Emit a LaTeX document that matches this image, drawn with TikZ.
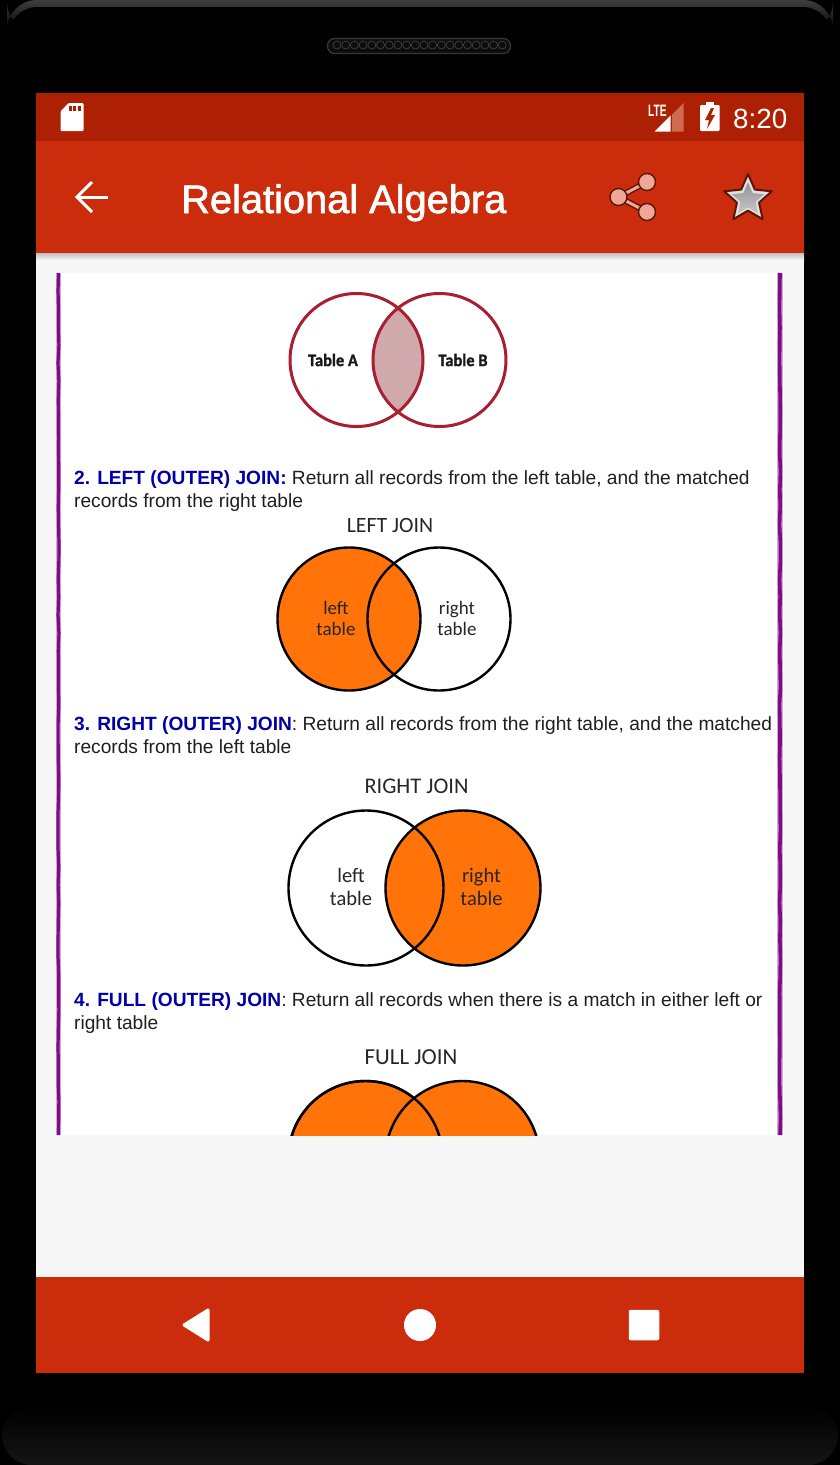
\documentclass[tikz,border=0pt]{standalone}
\usepackage{fontspec}
\usetikzlibrary{calc,positioning,shapes.geometric,decorations.pathmorphing}
\setmainfont{Liberation Sans}
\newfontfamily\uifont{Liberation Sans}
\newfontfamily\titlefont{Liberation Sans}[FakeBold=1.6]
\newfontfamily\vennfont{Carlito}
\newfontfamily\tblfont{Carlito}[BoldFeatures={FakeStretch=.94,FakeBold=1.2}]
\definecolor{barred}{HTML}{CB2C0B}
\definecolor{statusred}{HTML}{AE2003}
\definecolor{bodygray}{HTML}{F6F6F6}
\definecolor{joinorange}{HTML}{FF7308}
\definecolor{ringred}{HTML}{A81F2F}
\definecolor{lensfill}{HTML}{D0A9AD}
\definecolor{edgepurple}{HTML}{800A88}
\definecolor{headblue}{HTML}{0000A8}
\definecolor{sharefill}{HTML}{EFA896}
\definecolor{iconedge}{HTML}{5A1608}
\definecolor{ltedim}{HTML}{CF6A4E}
\newcommand{\fs}[1]{\fontsize{#1}{#1}\selectfont}
\begin{document}
\begin{tikzpicture}[x=1pt, y=-1pt,
  txt/.style={anchor=base west, inner sep=0pt, text=black!88, font=\fs{19.15}},
  vlbl/.style={inner sep=0pt, align=center, font=\vennfont\fs{19}, text=black!85},
  ttl/.style={inner sep=0pt, font=\vennfont\fs{22.4}, text=black!85},
  ring/.style={draw, circle, inner sep=0pt, outer sep=0pt, line width=2.4pt, minimum size=#1},
  tring/.style={draw=ringred, circle, inner sep=0pt, outer sep=0pt, line width=3pt, minimum size=133pt},
  tlbl/.style={inner sep=0pt, font=\tblfont\bfseries\fs{17.5}, text=black!90},
  navbtn/.style={fill=white, draw=white, line join=round},
  shr/.style={circle, fill=sharefill, draw=iconedge, line width=1.4pt, inner sep=0pt, minimum size=17pt}]
\useasboundingbox (0,0) rectangle (840,1465);
\fill[black] (0,0) rectangle (840,1465);
% phone body
\shade[top color=black!76, bottom color=black, rounded corners=30pt] (7,0) rectangle (833,32);
\fill[black, rounded corners=28pt] (9,7) rectangle (831,90);
\shade[top color=black, bottom color=black!92, rounded corners=30pt] (2,1405) rectangle (838,1465);
% speaker
\node[draw=black!78, fill=black!95, rounded corners=7pt, minimum width=183pt, minimum height=15pt, inner sep=0pt, line width=1.2pt] (speaker) at (419,46) {};
\foreach \i in {0,...,19}{
  \draw[black!72, line width=.6pt] (337+8.7*\i,45) circle (4pt);
}
% screen
\fill[statusred] (36,93) rectangle (804,141);
\fill[barred] (36,141) rectangle (804,253);
\fill[bodygray] (36,253) rectangle (804,1277);
\shade[top color=black!25, bottom color=bodygray] (36,253) rectangle (804,260);
\fill[barred] (36,1277) rectangle (804,1373);
\fill[white] (56,273) rectangle (784,1135);
% status bar
\fill[white, rounded corners=1pt] (68.5,103) -- (83.5,103) -- (83.5,131) -- (60.5,131) -- (60.5,111.5) -- cycle;
\foreach \i in {0,1,2}{
  \fill[statusred] (69+4.3*\i,106) rectangle ++(3,5);
}
\fill[ltedim] (683.5,103) -- (683.5,131.5) -- (672,131.5) -- (672,114.5) -- cycle;
\fill[white] (654.5,131.5) -- (670.5,115.5) -- (670.5,131.5) -- cycle;
\node[inner sep=0pt, text=white] (lte) at (657.5,111) {\scalebox{.62}[1]{\uifont\bfseries\fs{16.5}LTE}};
\fill[white] (706,102) rectangle (714,106);
\fill[white, rounded corners=1pt] (700,105) rectangle (719.5,131);
\fill[statusred] (711,108) -- (705,120) -- (709,120) -- (707,129) -- (715,115) -- (711,115) -- (714,108) -- cycle;
\node[anchor=base east, inner sep=0pt, text=white, font=\uifont\fs{27.8}] (clock) at (787.5,128) {8:20};
% app bar
\coordinate (tail) at (108,197);
\coordinate (tip) at (77,197);
\draw[white, line width=3pt] (tail) -- (tip);
\draw[white, line width=3pt, line join=miter] (92,182) -- (tip) -- (92,212);
\node[anchor=base west, inner sep=0pt, text=white, font=\titlefont\fs{39.8}] (title) at (181,213) {Relational Algebra};
\coordinate (pa) at (647,182);
\coordinate (pb) at (618.5,197);
\coordinate (pc) at (647,212);
\draw[iconedge, line width=6pt] (pb) -- (pa);
\draw[iconedge, line width=6pt] (pb) -- (pc);
\draw[sharefill, line width=3pt] (pb) -- (pa);
\draw[sharefill, line width=3pt] (pb) -- (pc);
\node[shr] (sa) at (pa) {};
\node[shr] (sb) at (pb) {};
\node[shr] (sc) at (pc) {};
\node[star, star points=5, star point ratio=2.15, minimum size=50pt, inner sep=0pt, draw=iconedge, fill=black!12, line width=2pt, line join=round] (fav) at (748,199) {};
\node[star, star points=5, star point ratio=2.15, minimum size=34pt, inner sep=0pt, top color=black!42, bottom color=black!22] (favin) at (748,199.5) {};
% page edges
\foreach \ex/\ew in {58.5/3.2, 780/3.6}{
  \draw[edgepurple!35, line width=\ew pt+1.6pt] (\ex,273) -- (\ex,1135);
  \draw[edgepurple, line width=\ew pt, decorate, decoration={random steps, segment length=18pt, amplitude=.5pt}] (\ex,273) -- (\ex,1135);
}
% inner join
\begin{scope}
  \clip (356.5,360) circle (66.5pt);
  \fill[lensfill] (439.5,360) circle (66.5pt);
\end{scope}
\node[tring] (ta) at (356.5,360) {};
\node[tring] (tb) at (439.5,360) {};
\node[tlbl] (la) at (333,360) {Table A};
\node[tlbl] (lb) at (463,360) {Table B};
% left join
\node[txt] (h2) at (74,484) {\textcolor{headblue}{\bfseries 2. LEFT (OUTER) JOIN:} Return all records from the left table, and the matched};
\node[txt] (h2b) at (74,507) {records from the right table};
\node[ttl, font=\vennfont\fs{21.8}] (t2) at (390,525) {LEFT JOIN};
\node[ring=143pt, fill=joinorange] (la2) at (349,619) {};
\node[ring=143pt] (lb2) at (439,619) {};
\node[vlbl] (lc2) at (336,618) {left\\[2pt]table};
\node[vlbl] (ld2) at (457,618) {right\\[2pt]table};
% right join
\node[txt] (h3) at (74,730) {\textcolor{headblue}{\bfseries 3. RIGHT (OUTER) JOIN}: Return all records from the right table, and the matched};
\node[txt] (h3b) at (74,753) {records from the left table};
\node[ttl] (t3) at (416.5,786) {RIGHT JOIN};
\node[ring=155pt, fill=joinorange] (lb3) at (463,888) {};
\node[ring=155pt] (la3) at (366,888) {};
\node[vlbl, font=\vennfont\fs{20.5}] (lc3) at (351,887) {left\\[3pt]table};
\node[vlbl, font=\vennfont\fs{20.5}] (ld3) at (481.5,887) {right\\[3pt]table};
% full join
\node[txt] (h4) at (74,1006) {\textcolor{headblue}{\bfseries 4. FULL (OUTER) JOIN}: Return all records when there is a match in either left or};
\node[txt] (h4b) at (74,1029) {right table};
\node[ttl, font=\vennfont\fs{22.9}] (t4) at (411,1057) {FULL JOIN};
\begin{scope}
  \clip (56,1070) rectangle (784,1135);
  \node[ring=154pt, fill=joinorange] (la4) at (365.5,1158) {};
  \node[ring=154pt, fill=joinorange] (lb4) at (462.5,1158) {};
  \draw[line width=2.4pt] (365.5,1158) circle (77pt);
\end{scope}
% nav buttons
\draw[navbtn, line width=3pt] (184,1325) -- (208,1310) -- (208,1340) -- cycle;
\node[circle, fill=white, inner sep=0pt, minimum size=32pt] (home) at (420,1325) {};
\node[rectangle, fill=white, rounded corners=2pt, inner sep=0pt, minimum size=30.5pt] (recent) at (644,1325) {};
\end{tikzpicture}
\end{document}
